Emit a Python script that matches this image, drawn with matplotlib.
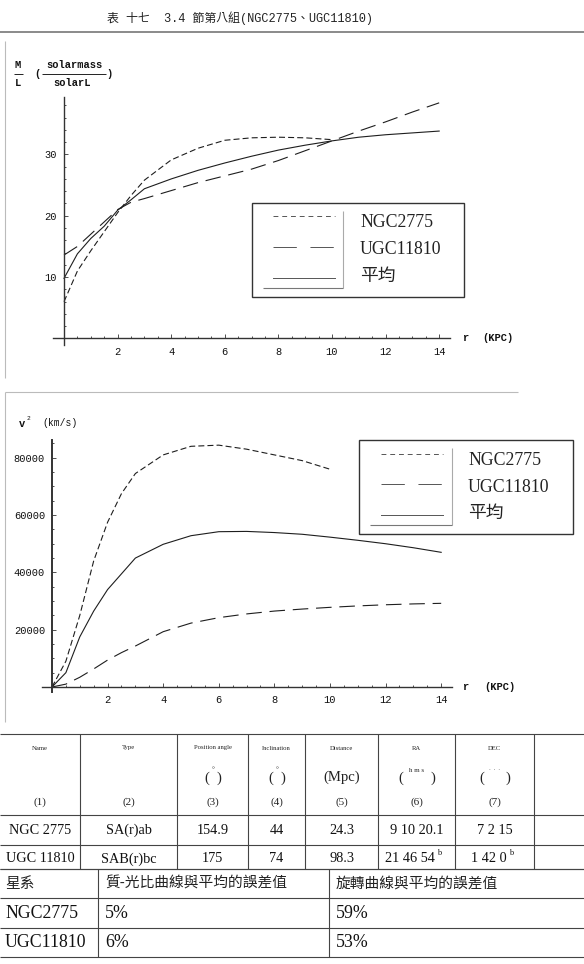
import matplotlib
matplotlib.use('Agg')  # no display
import matplotlib.pyplot as plt
from matplotlib.ticker import MultipleLocator
from matplotlib.patches import Rectangle

W, H = 584, 964

# mass-to-light ratio curves
r_ml = [0, 0.5, 1, 1.5, 2, 2.5, 3, 4, 5, 6, 7, 8, 9, 10, 11, 12, 13, 14]
ml_ngc2775 = [6.0, 11.0, 14.3, 17.4, 20.5, 23.3, 25.8, 29.1, 31.0, 32.3, 32.7, 32.8, 32.7, 32.4]
ml_ugc11810 = [13.6, 15.0, 17.0, 19.0, 21.0, 22.2, 22.8, 24.1, 25.4, 26.5, 27.6, 29.0, 30.6,
               32.2, 33.8, 35.3, 36.9, 38.4]
ml_mean = [9.8, 13.8, 16.3, 18.3, 20.9, 22.6, 24.4, 26.0, 27.4, 28.6, 29.7, 30.7, 31.5,
           32.2, 32.8, 33.2, 33.5, 33.8]

# rotation curves v^2
r_v = [0, 0.5, 1, 1.5, 2, 2.5, 3, 4, 5, 6, 7, 8, 9, 10, 11, 12, 13, 14]
v2_ngc2775 = [0, 9000, 25000, 44000, 57500, 67500, 74500, 81000, 84000, 84400, 83000,
              81000, 79000, 76000]
v2_ugc11810 = [0, 1000, 3400, 6300, 9400, 12000, 14300, 19300, 22300, 24200, 25500, 26500,
               27200, 27800, 28300, 28700, 29000, 29200]
v2_mean = [0, 5000, 17500, 26500, 34000, 39500, 45000, 49800, 52800, 54200, 54300, 53900,
           53300, 52300, 51200, 50000, 48600, 47000]

legend_labels = ['NGC2775', 'UGC11810', '平均']
x_ticks = [2, 4, 6, 8, 10, 12, 14]
ml_ticks = [10, 20, 30]
v2_ticks = [20000, 40000, 60000, 80000]

table_header = ['Name', 'Type', 'Position angle', 'Inclination', 'Distance', 'RA', 'DEC']
table_numbers = ['(1)', '(2)', '(3)', '(4)', '(5)', '(6)', '(7)']
table_rows = [['NGC 2775', 'SA(r)ab', '154.9', '44', '24.3', '9 10 20.1', '7 2 15'],
              ['UGC 11810', 'SAB(r)bc', '175', '74', '98.3', '21 46 54', '1 42 0']]
err_header = ['星系', '質-光比曲線與平均的誤差值', '旋轉曲線與平均的誤差值']
err_rows = [['NGC2775', '5%', '59%'], ['UGC11810', '6%', '53%']]

INK = '#1e1e1e'
MONO = 'Liberation Mono'
SERIF = ['Liberation Serif', 'Noto Sans CJK TC']
CJK = ['Noto Sans CJK TC', 'DejaVu Sans']

fig = plt.figure(figsize=(W / 100, H / 100), dpi=100)
fig.patch.set_facecolor('white')

# page overlay in pixel coordinates
pg = fig.add_axes([0, 0, 1, 1])
pg.set_xlim(0, W)
pg.set_ylim(H, 0)
pg.axis('off')
pg.patch.set_alpha(0)
pg.set_zorder(5)


def hline(y, x0, x1, c='#555', lw=0.8):
    pg.plot([x0, x1], [y, y], color=c, lw=lw, solid_capstyle='butt')


def vline(x, y0, y1, c='#555', lw=0.8):
    pg.plot([x, x], [y0, y1], color=c, lw=lw, solid_capstyle='butt')


def chart_axes(x0, x1, y_top, y_bot, xlim, ylim, yticks, yminor):
    ax = fig.add_axes([x0 / W, 1 - y_bot / H, (x1 - x0) / W, (y_bot - y_top) / H])
    ax.patch.set_alpha(0)
    ax.set_xlim(*xlim)
    ax.set_ylim(*ylim)
    for s in ['top', 'right']:
        ax.spines[s].set_visible(False)
    for s in ['left', 'bottom']:
        ax.spines[s].set_position(('data', 0))
        ax.spines[s].set_color('#333')
        ax.spines[s].set_linewidth(1.0)
    ax.set_xticks(x_ticks)
    ax.set_yticks(yticks)
    ax.xaxis.set_minor_locator(MultipleLocator(0.5))
    ax.yaxis.set_minor_locator(MultipleLocator(yminor))
    ax.tick_params(which='major', direction='in', length=3, width=0.6, color='#333')
    ax.tick_params(which='minor', direction='in', length=1.6, width=0.6, color='#333')
    ax.tick_params(axis='x', pad=6)
    ax.tick_params(axis='y', pad=5)
    for lab in ax.get_xticklabels() + ax.get_yticklabels():
        lab.set_fontfamily(MONO)
        lab.set_fontsize(7.5)
        lab.set_color('#111')
    return ax


ngc_style = dict(color=INK, lw=0.8, dashes=(5.4, 2.8))
ugc_style = dict(color=INK, lw=0.8, dashes=(14, 7))
mean_style = dict(color=INK, lw=0.8)


def draw_key(x0, y0, x1, y1, ix1, iy1, sx0, sx1, ys, tx, tys):
    pg.add_patch(Rectangle((x0, y0), x1 - x0, y1 - y0, fill=False, ec='#333', lw=1.0))
    vline(ix1, y0 + 8, iy1, c='#aaa', lw=0.8)
    hline(iy1, x0 + 11, ix1, c='#777', lw=0.8)
    pg.plot([sx0, sx1], [ys[0], ys[0]], color='#555', lw=0.7, dashes=(5, 4))
    pg.plot([sx0, sx1], [ys[1], ys[1]], color='#555', lw=0.7, dashes=(24, 14))
    pg.plot([sx0, sx1], [ys[2], ys[2]], color='#555', lw=0.7)
    for lab, ty in zip(legend_labels, tys):
        pg.text(tx, ty, lab, family=SERIF, fontsize=12.8, color='#222', va='center', ha='left')


# ---- title ----
pg.text(107, 18, '表 十七  3.4 節第八組(NGC2775、UGC11810)', family=[MONO, 'Noto Sans CJK TC'],
        fontsize=8.6, color='#222', va='center', ha='left')
hline(32, 0, W, c='#777', lw=1.2)

# ---- top chart: M/L ----
vline(5, 41, 378, c='#bbb', lw=0.8)
ax1 = chart_axes(53.3, 449.9, 96.7, 345, (-0.4, 14.4), (-1.06, 39.4), ml_ticks, 2)
ax1.plot(r_ml[:len(ml_ngc2775)], ml_ngc2775, **ngc_style)
ax1.plot(r_ml, ml_ugc11810, **ugc_style)
ax1.plot(r_ml, ml_mean, **mean_style)

tk = dict(family=MONO, fontsize=7.5, color='#111', va='center', fontweight='bold')
pg.text(18, 65, 'M', ha='center', **tk)
pg.text(18, 83, 'L', ha='center', **tk)
hline(74, 14, 23, c='#222', lw=0.7)
pg.text(37, 74, '(', ha='center', **tk)
pg.text(74, 65, 'solarmass', ha='center', **tk)
pg.text(72, 83, 'solarL', ha='center', **tk)
hline(74, 42, 106, c='#222', lw=0.7)
pg.text(110, 74, ')', ha='center', **tk)
pg.text(465, 338, 'r', ha='center', **tk)
pg.text(498, 338, '(KPC)', ha='center', **tk)

draw_key(252, 203, 464, 297, 343, 287.5, 273, 335, [216, 246.7, 278.3], 360, [222.7, 250, 276])

# ---- bottom chart: v^2 ----
hline(392, 5, 518, c='#bbb', lw=0.8)
vline(5, 392, 722, c='#bbb', lw=0.8)
ax2 = chart_axes(41.7, 452.3, 440, 691.7, (-0.37, 14.4), (-1640, 86200), v2_ticks, 5000)
ax2.spines['left'].set_linewidth(1.4)
ax2.plot(r_v[:len(v2_ngc2775)], v2_ngc2775, **ngc_style)
ax2.plot(r_v, v2_ugc11810, **ugc_style)
ax2.plot(r_v, v2_mean, **mean_style)

pg.text(22, 424, 'v', ha='center', **tk)
pg.text(28, 419, '2', ha='center', family=MONO, fontsize=4.5, color='#111', va='center')
pg.text(60, 423, '(km/s)', ha='center', family=MONO, fontsize=7, color='#111', va='center')
pg.text(465, 687, 'r', ha='center', **tk)
pg.text(500, 687, '(KPC)', ha='center', **tk)

draw_key(359, 440, 573, 534, 452, 525.3, 381, 443, [454.3, 484.3, 515], 468, [460.7, 487.3, 513.3])

# ---- galaxy data table ----
col_edges = [80, 177, 248, 305, 378, 455, 534]
col_centers = [40, 128.5, 212.5, 276.5, 341.5, 416.5, 494.5]
row_lines = [734, 815, 845, 869]
for y in row_lines:
    hline(y, 0, W, c='#444', lw=0.8)
for x in col_edges:
    vline(x, row_lines[0], row_lines[-1], c='#444', lw=0.8)

for cx, lab, num in zip(col_centers, table_header, table_numbers):
    pg.text(cx, 748, lab, family=SERIF, fontsize=4.8, color='#222', ha='center', va='center')
    pg.text(cx, 802, num, family=SERIF, fontsize=8, color='#222', ha='center', va='center')

unit_kw = dict(family=SERIF, color='#222', ha='center', va='center')


def parens(cx, half, mark, size):
    pg.text(cx - half, 778, '(', fontsize=10.6, **unit_kw)
    pg.text(cx + half, 778, ')', fontsize=10.6, **unit_kw)
    pg.text(cx, 770, mark, fontsize=size, **unit_kw)


for cx in col_centers[2:4]:
    parens(cx, 6, '°', 5)
pg.text(col_centers[4], 777, '(Mpc)', fontsize=10.6, **unit_kw)
parens(col_centers[5], 16, 'h m s', 5)
parens(col_centers[6], 13, '·  ·  ·', 4)

for y, row in zip([830, 859], table_rows):
    for cx, val in zip(col_centers, row):
        if row is table_rows[1] and cx >= col_centers[5]:
            continue
        pg.text(cx, y, val, family=SERIF, fontsize=10.3, color='#111', ha='center', va='center')
pg.text(435, 859, table_rows[1][5], family=SERIF, fontsize=10.3, color='#111', ha='right', va='center')
pg.text(437, 853, 'b', family=SERIF, fontsize=6, color='#111', ha='left', va='center')
pg.text(507, 859, table_rows[1][6], family=SERIF, fontsize=10.3, color='#111', ha='right', va='center')
pg.text(509, 853, 'b', family=SERIF, fontsize=6, color='#111', ha='left', va='center')

# ---- error table ----
err_lines = [869, 898, 928, 957]
for y in err_lines:
    hline(y, 0, W, c='#444', lw=0.8)
for x in [98, 328.5]:
    vline(x, err_lines[0], err_lines[-1], c='#444', lw=0.8)
err_x = [5, 105, 336]
for x, lab in zip(err_x, err_header):
    pg.text(x, 884, lab, family=CJK, fontsize=10.6, color='#222', ha='left', va='center')
for y, row in zip([913, 942.5], err_rows):
    for x, val in zip(err_x, row):
        pg.text(x, y, val, family=SERIF, fontsize=12.8, color='#111', ha='left', va='center')

fig.savefig('out.png', dpi=100)
